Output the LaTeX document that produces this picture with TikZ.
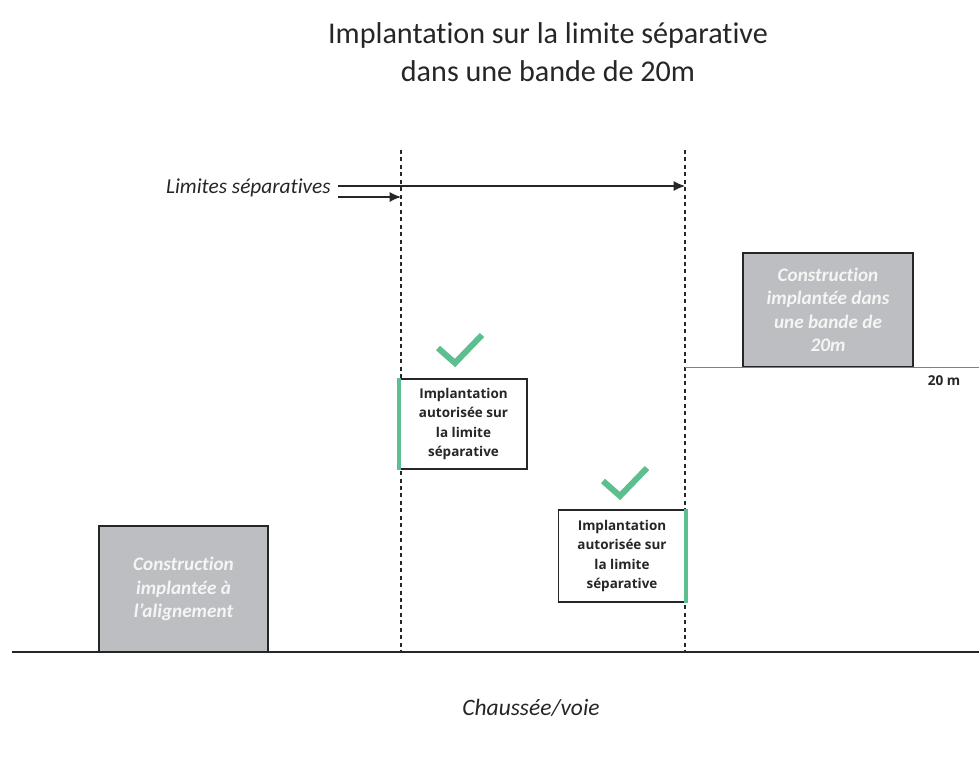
\documentclass[tikz,border=0pt]{standalone}
\usepackage{fontspec}
\setmainfont{Carlito}[Ligatures=NoCommon]
\newfontfamily\boxfont{Open Sans}
\usetikzlibrary{arrows.meta}
\definecolor{bldgray}{HTML}{BDBEC1}
\definecolor{okgreen}{HTML}{5DBE8F}
\definecolor{inkdark}{HTML}{262626}
\tikzset{
  building/.style={draw=inkdark, line width=0.9pt, fill=bldgray, inner sep=0pt,
    align=center, text=white!92!gray, font=\fontsize{14.4}{17.6}\selectfont\bfseries\itshape},
  rulebox/.style={draw=inkdark, line width=0.9pt, fill=white, inner sep=0pt,
    align=center, text=inkdark, font=\boxfont\fontsize{10.1}{14.5}\selectfont\bfseries},
  limit/.style={draw=inkdark, line width=0.8pt, dash pattern=on 3pt off 2.6pt},
  pointer/.style={draw=inkdark, line width=0.9pt, -{Latex[length=8.5pt,width=7.5pt]}},
  greenbar/.style={draw=okgreen, line width=3pt},
  tick/.style={draw=okgreen, line width=4.5pt, line cap=butt, line join=miter},
}
\begin{document}
\begin{tikzpicture}[x=0.75pt, y=-0.75pt]
  \useasboundingbox[fill=white] (0,0) rectangle (979,758);

  % title
  \node[align=center, text=inkdark, font=\fontsize{22.6}{28}\selectfont] (title) at (548,52)
    {Implantation sur la limite séparative\\dans une bande de 20m};

  % ground line and street label
  \coordinate (g0) at (12,652);
  \coordinate (g1) at (979,652);
  \draw[inkdark, line width=0.9pt] (g0) -- (g1);
  \node[text=inkdark, font=\fontsize{17.6}{20}\selectfont\itshape] (road) at (531,708) {Chaussée/voie};

  % property limits
  \coordinate (l1top) at (401,150);
  \coordinate (l1bot) at (401,652);
  \coordinate (l2top) at (685,150);
  \coordinate (l2bot) at (685,652);
  \draw[limit] (l1top) -- (l1bot);
  \draw[limit] (l2top) -- (l2bot);

  % label with arrows toward both limits
  \node[anchor=east, text=inkdark, font=\fontsize{16}{18}\selectfont\itshape, inner sep=0pt] (lbl) at (331,188) {Limites séparatives};
  \coordinate (a1s) at (338,186);
  \coordinate (a1e) at (685,186);
  \coordinate (a2s) at (338,197);
  \coordinate (a2e) at (401,197);
  \draw[pointer] (a1s) -- (a1e);
  \draw[pointer] (a2s) -- (a2e);

  % buildings
  \node[building, minimum width=126.75pt, minimum height=94.5pt] (bldA) at (183.5,589)
    {Construction\\implantée à\\l'alignement};
  \node[building, minimum width=127.5pt, minimum height=85.5pt] (bldB) at (828,310)
    {Construction\\implantée dans\\une bande de\\20m};

  % 20 m band line
  \coordinate (b0) at (685,367);
  \coordinate (b1) at (979,367);
  \draw[gray, line width=0.7pt] (b0) -- (b1);
  \node[text=inkdark, font=\boxfont\fontsize{10.2}{12}\selectfont\bfseries] (band) at (944,381) {20 m};

  % allowed placements on the limits
  \node[rulebox, minimum width=95.25pt, minimum height=67.5pt] (okA) at (463.5,424)
    {Implantation\\autorisée sur\\la limite\\séparative};
  \draw[greenbar] (okA.north west) -- (okA.south west);
  \node[rulebox, minimum width=95.25pt, minimum height=69pt] (okB) at (622,556)
    {Implantation\\autorisée sur\\la limite\\séparative};
  \draw[greenbar] (okB.north east) -- (okB.south east);

  % check marks
  \coordinate (tA) at (438,348);
  \coordinate (tB) at (603,481);
  \draw[tick] (tA) -- ++(17,15) -- ++(27,-28);
  \draw[tick] (tB) -- ++(17,15) -- ++(27,-28);
\end{tikzpicture}
\end{document}
